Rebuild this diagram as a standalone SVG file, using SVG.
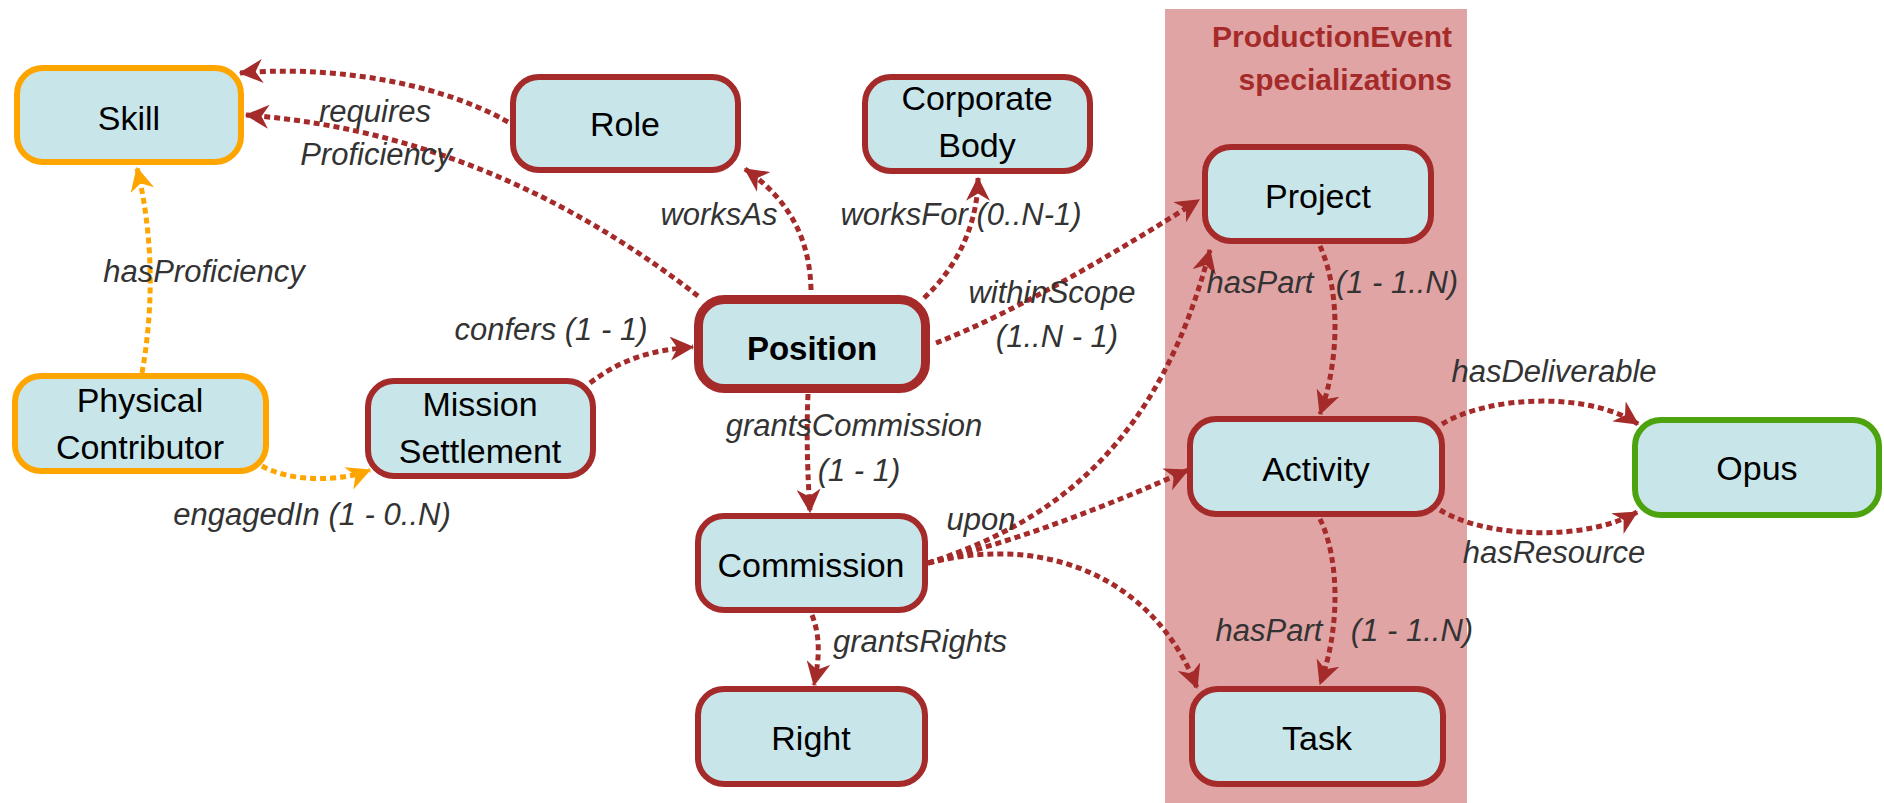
<svg xmlns="http://www.w3.org/2000/svg" width="1884" height="803" viewBox="0 0 1884 803">
<style>
.node rect{fill:#C8E6EA;stroke:#A52A2A;stroke-width:6}
.node.orange rect{stroke:#FFA500}
.node.green rect{stroke:#4CA30D}
.node.bold rect{stroke-width:9}
.node text{font-family:"Liberation Sans",Arial,sans-serif;font-size:34px;fill:#000;text-anchor:middle}
.node.bold text{font-weight:bold;font-size:33px}
.edge{fill:none;stroke:#A52A2A;stroke-width:5;stroke-dasharray:6 4;marker-end:url(#arr)}
.edge.orange{stroke:#FFA500;marker-end:url(#arrO)}
.lbl{font-family:"Liberation Sans",Arial,sans-serif;font-size:31px;font-style:italic;fill:#333;text-anchor:middle}
.title{font-family:"Liberation Sans",Arial,sans-serif;font-size:30px;font-weight:bold;fill:#A52A2A;text-anchor:end}
</style>
<defs>
<marker id="arr" viewBox="0 0 20 20" refX="19" refY="10" markerUnits="userSpaceOnUse" markerWidth="24" markerHeight="24" orient="auto">
<path d="M0,0 L20,10 L0,20 L6,10 Z" fill="#A52A2A"/>
</marker>
<marker id="arrO" viewBox="0 0 20 20" refX="19" refY="10" markerUnits="userSpaceOnUse" markerWidth="24" markerHeight="24" orient="auto">
<path d="M0,0 L20,10 L0,20 L6,10 Z" fill="#FFA500"/>
</marker>
</defs>
<rect x="0" y="0" width="1884" height="803" fill="#fff"/>
<g id="panel">
<rect x="1165" y="9" width="302" height="794" fill="#E0A4A4"/>
<text class="title" x="1452" y="47">ProductionEvent</text>
<text class="title" x="1452" y="90">specializations</text>
</g>
<g id="connectors">
<path class="edge" d="M508,122 C430,78 320,66 240,73"/>
<path class="edge" d="M698,296 C600,220 450,130 246,115"/>
<path class="edge orange" d="M142,373 C155,300 152,230 137,168"/>
<path class="edge" d="M811,290 C810,240 790,200 745,169"/>
<path class="edge" d="M924,298 C960,265 978,220 978,178"/>
<path class="edge" d="M936,343 C1020,310 1120,250 1199,200"/>
<path class="edge" d="M590,383 C620,360 650,350 693,347"/>
<path class="edge orange" d="M262,466 C290,482 340,482 370,470"/>
<path class="edge" d="M808,394 C806,440 808,480 810,512"/>
<path class="edge" d="M812,615 C822,640 818,665 814,685"/>
<path class="edge" d="M928,563 C1060,520 1160,440 1210,250"/>
<path class="edge" d="M928,563 C1020,540 1110,505 1188,470"/>
<path class="edge" d="M928,563 C1060,530 1160,590 1197,688"/>
<path class="edge" d="M1320,246 C1340,290 1340,360 1320,414"/>
<path class="edge" d="M1320,519 C1340,560 1340,630 1320,684"/>
<path class="edge" d="M1442,424 C1490,395 1590,392 1638,424"/>
<path class="edge" d="M1440,510 C1490,540 1590,540 1637,512"/>
</g>
<g id="labels">
<text class="lbl" x="375" y="122">requires</text>
<text class="lbl" x="376" y="165">Proficiency</text>
<text class="lbl" x="204" y="282">hasProficiency</text>
<text class="lbl" x="551" y="340">confers (1 - 1)</text>
<text class="lbl" x="719" y="225">worksAs</text>
<text class="lbl" x="961" y="225">worksFor (0..N-1)</text>
<text class="lbl" x="1052" y="303">withinScope</text>
<text class="lbl" x="1057" y="347">(1..N - 1)</text>
<text class="lbl" x="1260" y="293">hasPart</text>
<text class="lbl" x="1397" y="293">(1 - 1..N)</text>
<text class="lbl" x="1554" y="382">hasDeliverable</text>
<text class="lbl" x="1554" y="563">hasResource</text>
<text class="lbl" x="1269" y="641">hasPart</text>
<text class="lbl" x="1412" y="641">(1 - 1..N)</text>
<text class="lbl" x="312" y="525">engagedIn (1 - 0..N)</text>
<text class="lbl" x="854" y="436">grantsCommission</text>
<text class="lbl" x="859" y="481">(1 - 1)</text>
<text class="lbl" x="981" y="530">upon</text>
<text class="lbl" x="920" y="652">grantsRights</text>
</g>
<g id="skill" class="node orange"><rect x="17" y="68" width="224" height="94" rx="26"/><text x="129" y="130">Skill</text></g>
<g id="role" class="node"><rect x="513" y="77" width="225" height="93" rx="26"/><text x="625" y="136">Role</text></g>
<g id="corporate-body" class="node"><rect x="865" y="77" width="225" height="94" rx="26"/><text x="977" y="110">Corporate</text><text x="977" y="157">Body</text></g>
<g id="position" class="node bold"><rect x="698.5" y="299.5" width="227" height="89" rx="26"/><text x="812" y="360">Position</text></g>
<g id="physical-contributor" class="node orange"><rect x="15" y="376" width="251" height="95" rx="26"/><text x="140" y="412">Physical</text><text x="140" y="459">Contributor</text></g>
<g id="mission-settlement" class="node"><rect x="368" y="381" width="225" height="95" rx="26"/><text x="480" y="416">Mission</text><text x="480" y="463">Settlement</text></g>
<g id="commission" class="node"><rect x="698" y="516" width="227" height="94" rx="26"/><text x="811" y="577">Commission</text></g>
<g id="right" class="node"><rect x="698" y="689" width="227" height="95" rx="26"/><text x="811" y="750">Right</text></g>
<g id="project" class="node"><rect x="1205" y="147" width="226" height="94" rx="26"/><text x="1318" y="208">Project</text></g>
<g id="activity" class="node"><rect x="1190" y="419" width="252" height="95" rx="26"/><text x="1316" y="481">Activity</text></g>
<g id="task" class="node"><rect x="1192" y="689" width="251" height="95" rx="26"/><text x="1317" y="750">Task</text></g>
<g id="opus" class="node green"><rect x="1635" y="420" width="244" height="95" rx="26"/><text x="1757" y="480">Opus</text></g>
</svg>
